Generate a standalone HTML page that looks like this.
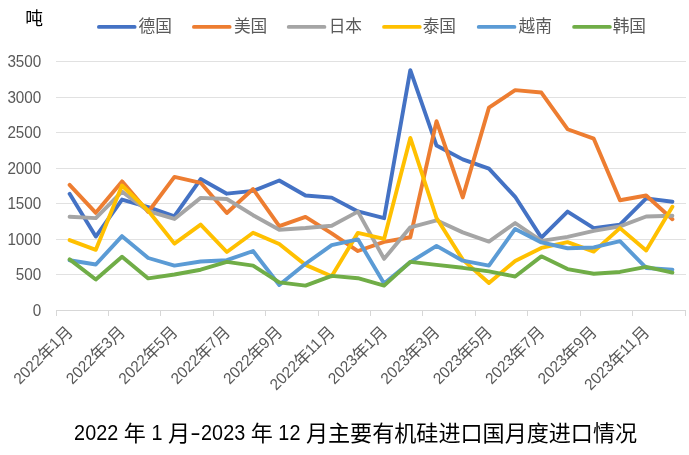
<!DOCTYPE html>
<html lang="zh-CN">
<head>
<meta charset="utf-8">
<title>2022 年 1 月-2023 年 12 月主要有机硅进口国月度进口情况</title>
<style>
html,body{margin:0;padding:0;background:#fff}
body{width:689px;height:455px;overflow:hidden}
svg{display:block;will-change:transform}
text{font-family:"Liberation Sans","Noto Sans CJK SC",sans-serif}
.ax{font-size:15.8px;fill:#595959}
.ttl{font-size:22px;fill:#000}
.lg{font-size:16.7px;fill:#595959}
.cj{font-size:16.8px;fill:#595959}
.tc{font-size:22.08px;fill:#000}
.ln{fill:none;stroke-width:3.9;stroke-linecap:round;stroke-linejoin:round}
</style>
</head>
<body>
<svg width="689" height="455" viewBox="0 0 689 455" role="img" aria-label="2022 年 1 月-2023 年 12 月主要有机硅进口国月度进口情况">
<rect width="689" height="455" fill="#fff"/>
<text x="25.34" y="24.65" font-size="17.8" fill="#000">吨</text>
<g stroke="#E1E1E1" stroke-width="1" fill="none" shape-rendering="crispEdges">
<line x1="56" y1="274.5" x2="686" y2="274.5"/>
<line x1="56" y1="239.5" x2="686" y2="239.5"/>
<line x1="56" y1="203.5" x2="686" y2="203.5"/>
<line x1="56" y1="168.5" x2="686" y2="168.5"/>
<line x1="56" y1="132.5" x2="686" y2="132.5"/>
<line x1="56" y1="97.5" x2="686" y2="97.5"/>
<line x1="56" y1="61.5" x2="686" y2="61.5"/>
</g>
<g stroke="#D7D7D7" stroke-width="1" fill="none" shape-rendering="crispEdges">
<line x1="56" y1="310.5" x2="686" y2="310.5"/>
<line x1="56.5" y1="311" x2="56.5" y2="316"/>
<line x1="108.5" y1="311" x2="108.5" y2="316"/>
<line x1="160.5" y1="311" x2="160.5" y2="316"/>
<line x1="213.5" y1="311" x2="213.5" y2="316"/>
<line x1="265.5" y1="311" x2="265.5" y2="316"/>
<line x1="318.5" y1="311" x2="318.5" y2="316"/>
<line x1="370.5" y1="311" x2="370.5" y2="316"/>
<line x1="422.5" y1="311" x2="422.5" y2="316"/>
<line x1="475.5" y1="311" x2="475.5" y2="316"/>
<line x1="527.5" y1="311" x2="527.5" y2="316"/>
<line x1="580.5" y1="311" x2="580.5" y2="316"/>
<line x1="632.5" y1="311" x2="632.5" y2="316"/>
<line x1="685.5" y1="311" x2="685.5" y2="316"/>
</g>
<g class="ax" text-anchor="end">
<text transform="translate(41.3 315.7) scale(0.965 1)">0</text>
<text transform="translate(41.3 279.7) scale(0.965 1)">500</text>
<text transform="translate(41.3 244.7) scale(0.965 1)">1000</text>
<text transform="translate(41.3 208.7) scale(0.965 1)">1500</text>
<text transform="translate(41.3 173.7) scale(0.965 1)">2000</text>
<text transform="translate(41.3 137.7) scale(0.965 1)">2500</text>
<text transform="translate(41.3 102.7) scale(0.965 1)">3000</text>
<text transform="translate(41.3 66.7) scale(0.965 1)">3500</text>
</g>
<polyline class="ln" stroke="#4472C4" points="69.6,193.83 95.81,236.51 122.02,199.59 148.23,207.2 174.44,216.24 200.65,179.03 226.85,193.68 253.06,190.91 279.27,180.45 305.48,195.53 331.69,197.6 357.9,211.47 384.1,218.23 410.31,70.11 436.52,145.52 462.73,159.39 488.94,168.64 515.15,196.81 541.35,237.58 567.56,211.61 593.77,228.19 619.98,224.63 646.19,198.31 672.4,201.79"><title>德国</title></polyline>
<polyline class="ln" stroke="#ED7D31" points="69.6,184.86 95.81,212.82 122.02,181.38 148.23,211.97 174.44,176.89 200.65,182.8 226.85,212.96 253.06,189.06 279.27,226.2 305.48,216.88 331.69,233.31 357.9,251.02 384.1,241.85 410.31,237.22 436.52,121.19 462.73,197.38 488.94,107.6 515.15,90.17 541.35,92.52 567.56,129.23 593.77,138.69 619.98,200.23 646.19,195.53 672.4,219.22"><title>美国</title></polyline>
<polyline class="ln" stroke="#A5A5A5" points="69.6,216.8 95.81,218.09 122.02,191.69 148.23,211.04 174.44,218.94 200.65,197.88 226.85,199.02 253.06,215.17 279.27,229.68 305.48,228.05 331.69,225.7 357.9,211.61 384.1,258.85 410.31,227.26 436.52,220.29 462.73,232.39 488.94,241.56 515.15,222.99 541.35,240.85 567.56,236.87 593.77,230.82 619.98,226.41 646.19,216.45 672.4,215.74"><title>日本</title></polyline>
<polyline class="ln" stroke="#FFC000" points="69.6,240.07 95.81,249.82 122.02,185.5 148.23,210.76 174.44,243.63 200.65,224.63 226.85,252.02 253.06,232.74 279.27,244.05 305.48,264.9 331.69,276.21 357.9,232.88 384.1,238.93 410.31,137.91 436.52,218.01 462.73,259.63 488.94,283.04 515.15,260.98 541.35,247.97 567.56,242.2 593.77,251.59 619.98,228.12 646.19,250.53 672.4,206.7"><title>泰国</title></polyline>
<polyline class="ln" stroke="#5B9BD5" points="69.6,260.27 95.81,264.47 122.02,236.16 148.23,258 174.44,265.61 200.65,261.55 226.85,260.2 253.06,251.02 279.27,285.03 305.48,263.76 331.69,245.19 357.9,239.36 384.1,283.54 410.31,262.12 436.52,245.9 462.73,260.7 488.94,265.61 515.15,228.97 541.35,242.42 567.56,248.25 593.77,247.47 619.98,241.14 646.19,267.96 672.4,269.59"><title>越南</title></polyline>
<polyline class="ln" stroke="#70AD47" points="69.6,259.42 95.81,279.55 122.02,256.79 148.23,278.41 174.44,274.5 200.65,269.74 226.85,261.84 253.06,265.61 279.27,282.33 305.48,285.6 331.69,275.85 357.9,278.2 384.1,285.6 410.31,261.91 436.52,264.9 462.73,267.81 488.94,271.44 515.15,276.49 541.35,256.36 567.56,269.09 593.77,273.79 619.98,271.94 646.19,266.82 672.4,272.58"><title>韩国</title></polyline>
<line class="ln" stroke="#4472C4" x1="98.95" y1="26.9" x2="134.6" y2="26.9"/>
<text class="lg" x="138.5" y="32">德国</text>
<line class="ln" stroke="#ED7D31" x1="193.95" y1="26.9" x2="229.6" y2="26.9"/>
<text class="lg" x="233.9" y="32">美国</text>
<line class="ln" stroke="#A5A5A5" x1="288.75" y1="26.9" x2="324.4" y2="26.9"/>
<text class="lg" x="328.7" y="32">日本</text>
<line class="ln" stroke="#FFC000" x1="384.05" y1="26.9" x2="419.7" y2="26.9"/>
<text class="lg" x="422.7" y="32">泰国</text>
<line class="ln" stroke="#5B9BD5" x1="478.75" y1="26.9" x2="514.4" y2="26.9"/>
<text class="lg" x="518.5" y="32">越南</text>
<line class="ln" stroke="#70AD47" x1="574.15" y1="26.9" x2="609.8" y2="26.9"/>
<text class="lg" x="612.7" y="32">韩国</text>
<g fill="#595959" transform="translate(72.7 332.4) rotate(-45)"><text class="ax" transform="translate(-74.4 0) scale(0.965 1)">2022</text><text class="cj" x="-40.88" y="1.5">年</text><text class="ax" transform="translate(-24.48 0) scale(0.965 1)">1</text><text class="cj" x="-16.4" y="1.5">月</text></g>
<g fill="#595959" transform="translate(125.12 332.4) rotate(-45)"><text class="ax" transform="translate(-74.4 0) scale(0.965 1)">2022</text><text class="cj" x="-40.88" y="1.5">年</text><text class="ax" transform="translate(-24.48 0) scale(0.965 1)">3</text><text class="cj" x="-16.4" y="1.5">月</text></g>
<g fill="#595959" transform="translate(177.54 332.4) rotate(-45)"><text class="ax" transform="translate(-74.4 0) scale(0.965 1)">2022</text><text class="cj" x="-40.88" y="1.5">年</text><text class="ax" transform="translate(-24.48 0) scale(0.965 1)">5</text><text class="cj" x="-16.4" y="1.5">月</text></g>
<g fill="#595959" transform="translate(229.95 332.4) rotate(-45)"><text class="ax" transform="translate(-74.4 0) scale(0.965 1)">2022</text><text class="cj" x="-40.88" y="1.5">年</text><text class="ax" transform="translate(-24.48 0) scale(0.965 1)">7</text><text class="cj" x="-16.4" y="1.5">月</text></g>
<g fill="#595959" transform="translate(282.37 332.4) rotate(-45)"><text class="ax" transform="translate(-74.4 0) scale(0.965 1)">2022</text><text class="cj" x="-40.88" y="1.5">年</text><text class="ax" transform="translate(-24.48 0) scale(0.965 1)">9</text><text class="cj" x="-16.4" y="1.5">月</text></g>
<g fill="#595959" transform="translate(334.79 332.4) rotate(-45)"><text class="ax" transform="translate(-82.88 0) scale(0.965 1)">2022</text><text class="cj" x="-49.36" y="1.5">年</text><text class="ax" transform="translate(-32.96 0) scale(0.965 1)">11</text><text class="cj" x="-16.4" y="1.5">月</text></g>
<g fill="#595959" transform="translate(387.2 332.4) rotate(-45)"><text class="ax" transform="translate(-74.4 0) scale(0.965 1)">2023</text><text class="cj" x="-40.88" y="1.5">年</text><text class="ax" transform="translate(-24.48 0) scale(0.965 1)">1</text><text class="cj" x="-16.4" y="1.5">月</text></g>
<g fill="#595959" transform="translate(439.62 332.4) rotate(-45)"><text class="ax" transform="translate(-74.4 0) scale(0.965 1)">2023</text><text class="cj" x="-40.88" y="1.5">年</text><text class="ax" transform="translate(-24.48 0) scale(0.965 1)">3</text><text class="cj" x="-16.4" y="1.5">月</text></g>
<g fill="#595959" transform="translate(492.04 332.4) rotate(-45)"><text class="ax" transform="translate(-74.4 0) scale(0.965 1)">2023</text><text class="cj" x="-40.88" y="1.5">年</text><text class="ax" transform="translate(-24.48 0) scale(0.965 1)">5</text><text class="cj" x="-16.4" y="1.5">月</text></g>
<g fill="#595959" transform="translate(544.45 332.4) rotate(-45)"><text class="ax" transform="translate(-74.4 0) scale(0.965 1)">2023</text><text class="cj" x="-40.88" y="1.5">年</text><text class="ax" transform="translate(-24.48 0) scale(0.965 1)">7</text><text class="cj" x="-16.4" y="1.5">月</text></g>
<g fill="#595959" transform="translate(596.87 332.4) rotate(-45)"><text class="ax" transform="translate(-74.4 0) scale(0.965 1)">2023</text><text class="cj" x="-40.88" y="1.5">年</text><text class="ax" transform="translate(-24.48 0) scale(0.965 1)">9</text><text class="cj" x="-16.4" y="1.5">月</text></g>
<g fill="#595959" transform="translate(649.29 332.4) rotate(-45)"><text class="ax" transform="translate(-82.88 0) scale(0.965 1)">2023</text><text class="cj" x="-49.36" y="1.5">年</text><text class="ax" transform="translate(-32.96 0) scale(0.965 1)">11</text><text class="cj" x="-16.4" y="1.5">月</text></g>
<g fill="#000"><text class="ttl" transform="translate(74.11 439.8) scale(0.9 1)" x="0 12.27 24.53 36.8">2022</text><text class="tc" x="123.78" y="440.6">年</text><text class="ttl" transform="translate(151.39 439.8) scale(0.9 1)" x="0">1</text><text class="tc" x="167.94" y="440.6">月</text><text class="ttl" x="190.32" y="439.8" textLength="10.44" lengthAdjust="spacingAndGlyphs">-</text><text class="ttl" transform="translate(201.07 439.8) scale(0.9 1)" x="0 12.27 24.53 36.8">2023</text><text class="tc" x="250.74" y="440.6">年</text><text class="ttl" transform="translate(278.35 439.8) scale(0.9 1)" x="0 12.27">12</text><text class="tc" x="305.94" y="440.6">月主要有机硅进口国月度进口情况</text></g>
</svg>
</body>
</html>
